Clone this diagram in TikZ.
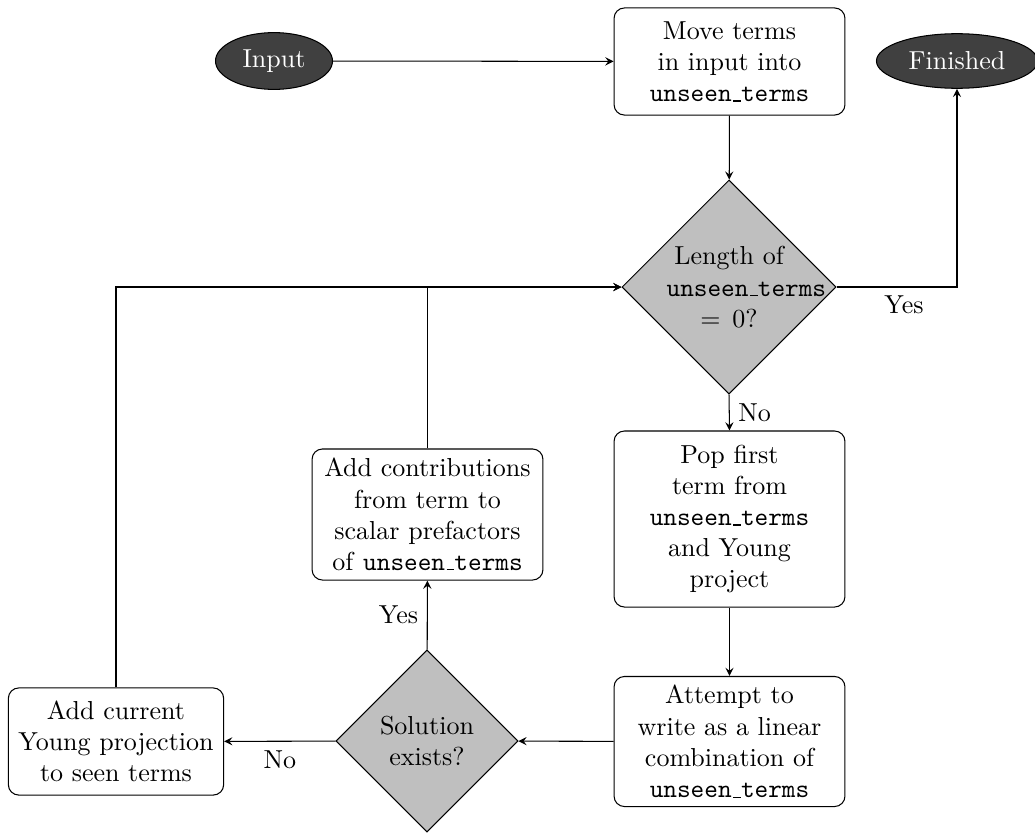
\documentclass[tikz,border=0pt]{standalone}
\usetikzlibrary{shapes.geometric,arrows}
\newcommand\myus{\leavevmode\kern.06em\vbox{\hrule width.3em}}
\newcommand\ut{\texttt{unseen\myus terms}}
\begin{document}
\begin{tikzpicture}[x=0.3846pt,y=-0.3846pt,
  term/.style={ellipse, draw, fill=black!75, text=white, minimum width=45pt, minimum height=21pt},
  procbox/.style={draw, rounded corners=4pt, align=center, inner sep=3.4pt, text width=82pt},
  decide/.style={diamond, draw, fill=gray!50, aspect=1, inner sep=0pt, align=center},
  conn/.style={-stealth}]
\useasboundingbox (0,0) rectangle (1035,832);
\node[term] (input) at (274,61) {Input};
\node[term] (fin) at (957,61) {Finished};
\node[procbox, minimum height=41.2pt] (move) at (729.5,61.5) {Move terms\\ in input into\\ \ut};
\node[decide, text width=48pt, minimum width=82.3pt, minimum height=82.3pt] (len) at (729,287) {Length of\\ \ut\\ $=0$?};
\node[procbox, minimum height=67.7pt] (pop) at (729.5,519) {Pop first\\ term from\\ \ut\\ and Young\\ project};
\node[procbox, minimum height=49.6pt] (att) at (729.5,741.5) {Attempt to\\ write as a linear\\ combination of\\ \ut};
\node[decide, minimum width=70pt, minimum height=70pt] (sol) at (427,741) {Solution\\ exists?};
\node[procbox, minimum height=50.4pt] (addc) at (427.5,514.5) {Add contributions\\ from term to\\ scalar prefactors\\ of \ut};
\node[procbox, text width=76pt, minimum height=41.2pt] (addcur) at (116,741.5) {Add current\\ Young projection\\ to seen terms};
\draw[conn] (input) -- (move);
\draw[conn] (move) -- (len);
\draw[conn] (len.east) -| node[pos=0.28, below] {Yes} (fin.south);
\draw[conn] (len.south) -- node[right] {No} (pop.north);
\draw[conn] (pop) -- (att);
\draw[conn] (att) -- (sol);
\draw[conn] (sol) -- node[below] {No} (addcur);
\draw[conn] (sol) -- node[left] {Yes} (addc);
\draw[conn] (addc.north) |- (len.west);
\draw[conn] (addcur.north) |- (len.west);
\end{tikzpicture}
\end{document}
